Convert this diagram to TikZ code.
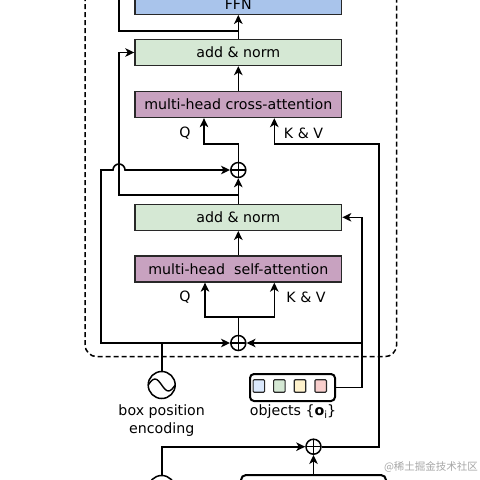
\documentclass[tikz,border=0pt]{standalone}
\usepackage{fontspec}
\setmainfont{DejaVu Sans}
\newfontfamily\cjkfont{Noto Sans CJK SC}
\usetikzlibrary{arrows.meta,calc}
\definecolor{ffnblue}{RGB}{169,196,235}
\definecolor{normgreen}{RGB}{213,232,212}
\definecolor{attnpurple}{RGB}{200,162,192}
\definecolor{edgegray}{RGB}{40,40,40}
\definecolor{sqblue}{RGB}{218,232,252}
\definecolor{sqgreen}{RGB}{213,232,212}
\definecolor{sqyellow}{RGB}{255,242,204}
\definecolor{sqpink}{RGB}{248,206,204}
\begin{document}
\begin{tikzpicture}[x=1pt,y=-1pt,
  txt/.style={font=\fontsize{14.2}{18}\selectfont},
  blk/.style={txt,draw=edgegray,line width=1.3pt,minimum width=206.7pt,minimum height=26pt,inner sep=0pt},
  wire/.style={line width=1.6pt,draw=black},
  arr/.style={wire,-{Stealth[length=9pt,width=8.5pt,inset=2.5pt]}},
  plus/.style={circle,draw=black,line width=1.5pt,minimum size=15pt,inner sep=0pt,
    path picture={\draw[line width=1.5pt] (path picture bounding box.north) -- (path picture bounding box.south)
      (path picture bounding box.west) -- (path picture bounding box.east);}},
  wave/.style={circle,draw=black,line width=1.5pt,minimum size=27pt,inner sep=0pt,
    path picture={\draw[line width=1.4pt] ([xshift=-13.5pt]path picture bounding box.center) sin ++(6.75pt,6pt) cos ++(6.75pt,-6pt) sin ++(6.75pt,-6pt) cos ++(6.75pt,6pt);}},
  sq/.style={draw=edgegray,line width=1.1pt,rounded corners=1pt,minimum width=11.5pt,minimum height=12.5pt,inner sep=0pt},
  lbl/.style={txt,inner sep=0pt},
  frame/.style={line width=1.5pt,dash pattern=on 5pt off 3pt,rounded corners=12pt}
]
\useasboundingbox (0,0) rectangle (480,480);
% dashed decoder frame
\draw[frame] (85,-40) rectangle (396.7,356.7);

% blocks
\node[blk,fill=ffnblue] (ffn) at (238.3,1.3) {};
\node[lbl] (ffnt) at (238.3,4) {FFN};
\node[blk,fill=normgreen] (an1) at (238.3,52.5) {add \& norm};
\node[blk,fill=attnpurple] (ca) at (238.3,104.5) {multi-head cross-attention};
\node[blk,fill=normgreen] (an2) at (238.3,217.3) {add \& norm};
\node[blk,fill=attnpurple] (sa) at (238.3,269) {multi-head\ \ self-attention};

% adders
\node[plus] (p1) at (238.3,170) {};
\node[plus] (p2) at (238.3,343) {};
\node[plus] (p3) at (313.5,446.7) {};

% positional encodings
\node[wave] (pe1) at (161.7,385) {};
\node[wave] (pe2) at (161.7,489) {};
\node[lbl,align=center] (bpe) at (161.7,421) {box position\\encoding};

% objects
\node[draw=black,line width=2pt,rounded corners=4pt,minimum width=85pt,minimum height=27pt,inner sep=0pt] (obj) at (292.5,387.5) {};
\node[sq,fill=sqblue] (o1) at (258.8,386) {};
\node[sq,fill=sqgreen] (o2) at (279.3,386) {};
\node[sq,fill=sqyellow] (o3) at (300,386) {};
\node[sq,fill=sqpink] (o4) at (320.7,386) {};
\node[lbl] (objl) at (293,411.7) {objects \{\textbf{o}\raisebox{-2.5pt}{\fontsize{10}{10}\selectfont i}\}};

% bottom box
\node[draw=black,line width=2pt,rounded corners=5pt,minimum width=145pt,minimum height=50pt,inner sep=0pt] (bb) at (313.5,500) {};

% labels
\node[lbl] (qc) at (185,133) {Q};
\node[lbl] (kvc) at (303.5,133) {K \& V};
\node[lbl] (qs) at (185,297) {Q};
\node[lbl] (kvs) at (306,297) {K \& V};

% coordinates
\coordinate (s1) at (238.3,30.7);
\coordinate (tl) at (119,-20);
\coordinate (s2) at (238.3,195);
\coordinate (r1) at (119,195);
\coordinate (qca) at (204,144);
\coordinate (kvca) at (274.3,144);
\coordinate (rr) at (379,446.7);
\coordinate (l1) at (101,343);
\coordinate (l2) at (101,170);
\coordinate (hopL) at (113,170);
\coordinate (ob1) at (361.7,387.5);
\coordinate (qsa) at (205,316.7);
\coordinate (kvsa) at (274.3,316.7);

% connectors
\draw[arr] (an1.north) -- (ffn.south);
\draw[arr] (ca.north) -- (an1.south);
\draw[wire] (s1) -| (tl);
\draw[arr] (an2.north) -- (p1.south);
\draw[arr] (s2) -- (r1) |- (an1.west);
\draw[arr] (p1.north) |- (qca) -- (qca |- ca.south);
\draw[arr] (p3.east) -- (rr) |- (kvca) -- (kvca |- ca.south);
\draw[arr] (pe1.north) -- (pe1.north |- p2) -- (p2.west);
\draw[arr] (pe1.north |- p2) -- (l1) -- (l2) -- (hopL) arc[start angle=180,end angle=0,radius=6pt] -- (p1.west);
\draw[arr] (obj.east) -- (ob1) |- (an2.east);
\draw[arr] (ob1 |- p2) -- (p2.east);
\draw[arr] (p2.north) |- (qsa) -- (qsa |- sa.south);
\draw[arr] (p2.north) |- (kvsa) -- (kvsa |- sa.south);
\draw[arr] (sa.north) -- (an2.south);
\draw[arr] (pe2.north) |- (p3.west);
\draw[arr] (bb.north) -- (p3.south);

% watermark
\node[text=black!35,font=\cjkfont\fontsize{10.5}{12}\selectfont,inner sep=0pt] (wm) at (431,467) {@稀土掘金技术社区};
\end{tikzpicture}
\end{document}
